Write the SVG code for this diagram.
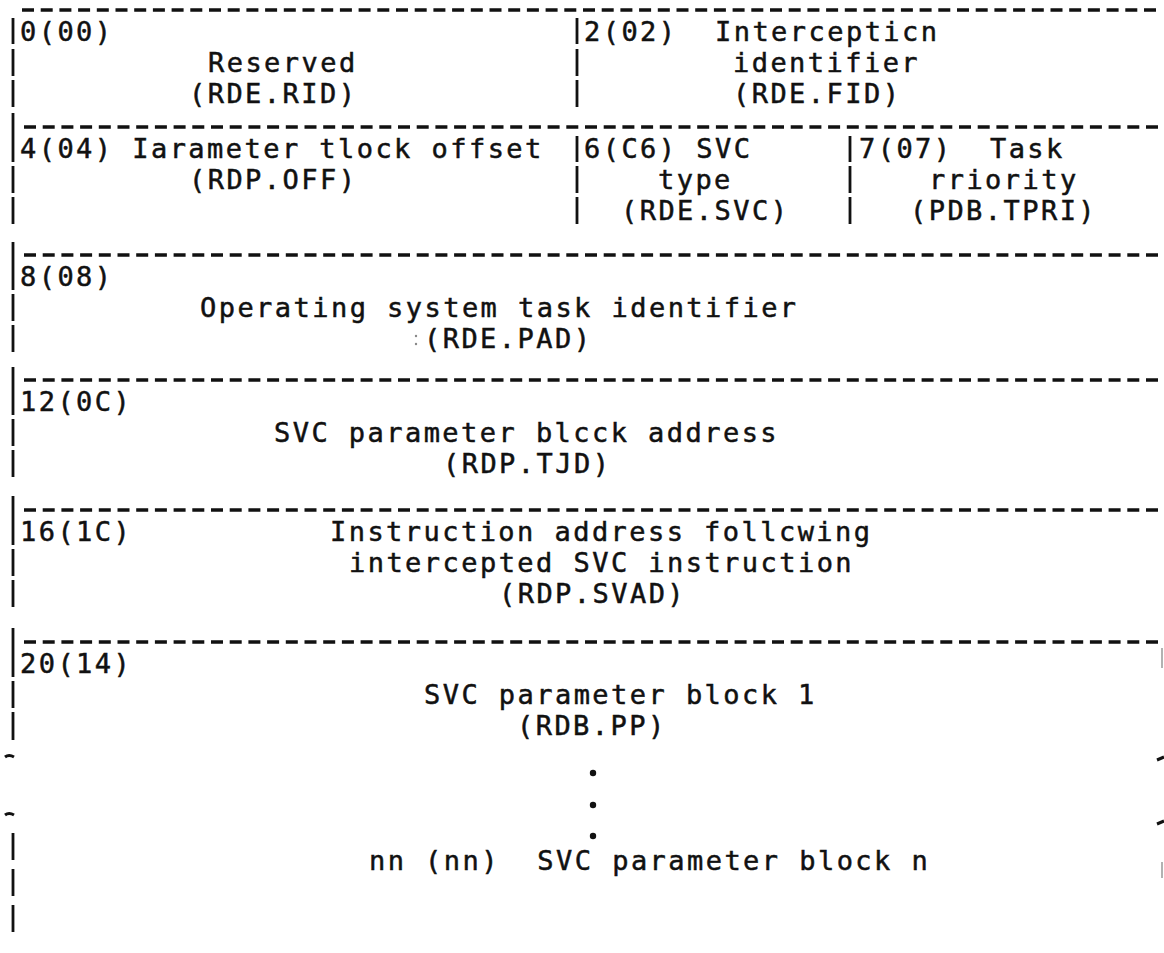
<svg xmlns="http://www.w3.org/2000/svg" width="1164" height="953" viewBox="0 0 1164 953">
<style>
.t{font-family:"DejaVu Sans Mono","Liberation Mono",monospace;font-size:27px;letter-spacing:2.45px;fill:#111;stroke:#111;stroke-width:0.5;white-space:pre}
.d{stroke:#111;stroke-width:3.6;stroke-dasharray:12 6.7;fill:none}
.b{stroke:#111;stroke-width:2.8;fill:none}
</style>
<rect width="1164" height="953" fill="#fff"/>
<g id="rules">
<line class="d" x1="22" y1="10" x2="1160" y2="10"/>
<line class="d" x1="24" y1="127" x2="1160" y2="127"/>
<line class="d" x1="24" y1="255" x2="1160" y2="255"/>
<line class="d" x1="24" y1="380" x2="1160" y2="380"/>
<line class="d" x1="24" y1="510" x2="1160" y2="510"/>
<line class="d" x1="24" y1="642" x2="1160" y2="642"/>
<path class="b" d="M13 18V44M13 49V76M13 80V107M13 113V139M13 136V162M13 166V193M13 197V224M13 242V268M13 264V290M13 294V321M13 325V352M13 367V393M13 389V415M13 419V446M13 450V477M13 496V523M13 518V545M13 549V576M13 580V607M13 628V655M13 650V677M13 681V708M13 712V740M13 833V860M13 869V896M13 905V932"/>
<path class="b" d="M577 18V44M577 49V76M577 80V107M577 136V162M577 166V193M577 197V224M850 136V162M850 166V193M850 197V224"/>
<path d="M5 757q4-3 9 0M5 815q4-3 9 0" stroke="#111" stroke-width="3" fill="none"/>
<path d="M1157 760l7-3M1157 824l7-3" stroke="#111" stroke-width="3" fill="none"/>
<path d="M1162 648V668M1162 862V878" stroke="#999" stroke-width="1.5" fill="none"/>
<circle cx="416" cy="336" r="1.2" fill="#888"/>
<circle cx="416" cy="344" r="1.2" fill="#888"/>
</g>
<g id="cell-00">
<text class="t" x="20" y="41">0(00)</text>
<text class="t" x="208" y="72">Reserved</text>
<text class="t" x="189" y="103">(RDE.RID)</text>
</g>
<g id="cell-02">
<text class="t" x="584" y="41">2(02)</text>
<text class="t" x="715" y="41">Intercepticn</text>
<text class="t" x="733" y="72">identifier</text>
<text class="t" x="733" y="103">(RDE.FID)</text>
</g>
<g id="cell-04">
<text class="t" x="20" y="158">4(04) Iarameter tlock offset</text>
<text class="t" x="189" y="189">(RDP.OFF)</text>
</g>
<g id="cell-06">
<text class="t" x="584" y="158">6(C6) SVC</text>
<text class="t" x="658" y="189">type</text>
<text class="t" x="621" y="220">(RDE.SVC)</text>
</g>
<g id="cell-07">
<text class="t" x="859" y="158" xml:space="preserve">7(07)  Task</text>
<text class="t" x="929" y="189">rriority</text>
<text class="t" x="910" y="220">(PDB.TPRI)</text>
</g>
<g id="cell-08">
<text class="t" x="20" y="286">8(08)</text>
<text class="t" x="200" y="317">Operating system task identifier</text>
<text class="t" x="424" y="348">(RDE.PAD)</text>
</g>
<g id="cell-0C">
<text class="t" x="20" y="411">12(0C)</text>
<text class="t" x="274" y="442">SVC parameter blcck address</text>
<text class="t" x="443" y="473">(RDP.TJD)</text>
</g>
<g id="cell-1C">
<text class="t" x="20" y="541">16(1C)</text>
<text class="t" x="330" y="541">Instruction address follcwing</text>
<text class="t" x="349" y="572">intercepted SVC instruction</text>
<text class="t" x="499" y="603">(RDP.SVAD)</text>
</g>
<g id="cell-14">
<text class="t" x="20" y="673">20(14)</text>
<text class="t" x="424" y="704">SVC parameter block 1</text>
<text class="t" x="517" y="735">(RDB.PP)</text>
</g>
<g id="cell-nn">
<circle cx="593" cy="773" r="3.2" fill="#111"/>
<circle cx="593" cy="805" r="3.2" fill="#111"/>
<circle cx="593" cy="836" r="3.2" fill="#111"/>
<text class="t" x="369" y="870" xml:space="preserve">nn (nn)  SVC parameter block n</text>
</g>
</svg>
